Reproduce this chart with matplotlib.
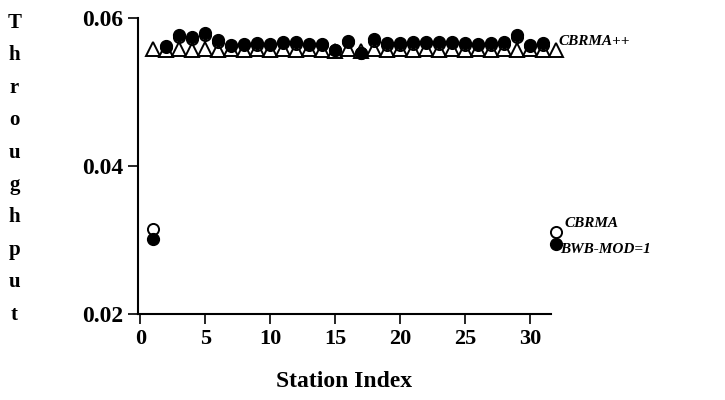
import matplotlib
matplotlib.use("Agg")
import matplotlib.pyplot as plt

stations = list(range(1, 33))

# BWB-MOD=1 (filled circles)
bwb = [0.0302, 0.0562, 0.0577, 0.0574, 0.0580, 0.0570, 0.0563, 0.0565,
       0.0566, 0.0565, 0.0568, 0.0567, 0.0565, 0.0565, 0.0557, 0.0569,
       0.0553, 0.0571, 0.0566, 0.0566, 0.0567, 0.0568, 0.0567, 0.0568,
       0.0566, 0.0565, 0.0566, 0.0567, 0.0577, 0.0563, 0.0566, 0.0295]

# CBRMA (open circles, mostly hidden behind the filled ones)
cbrma = [0.0315, 0.0561, 0.0574, 0.0571, 0.0577, 0.0568, 0.0562, 0.0563,
         0.0564, 0.0563, 0.0566, 0.0565, 0.0563, 0.0563, 0.0557, 0.0567,
         0.0553, 0.0569, 0.0564, 0.0564, 0.0565, 0.0566, 0.0565, 0.0566,
         0.0564, 0.0563, 0.0564, 0.0565, 0.0574, 0.0562, 0.0564, 0.0311]

# CBRMA++ (open triangles)
cbrma_pp = [0.0558, 0.0557, 0.0558, 0.0557, 0.0558, 0.0557, 0.0558, 0.0557,
            0.0558, 0.0557, 0.0558, 0.0557, 0.0558, 0.0557, 0.0556, 0.0558,
            0.0555, 0.0558, 0.0557, 0.0558, 0.0557, 0.0558, 0.0557, 0.0558,
            0.0557, 0.0558, 0.0557, 0.0558, 0.0557, 0.0558, 0.0557, 0.0557]

xticks = [0, 5, 10, 15, 20, 25, 30]
yticks = [0.02, 0.04, 0.06]

plt.rcParams['font.family'] = ['Liberation Serif', 'DejaVu Serif']
plt.rcParams['font.weight'] = 'bold'

fig = plt.figure(figsize=(7.25, 4), dpi=100)
ax = fig.add_axes([0.19, 0.215, 0.57, 0.74])

ax.plot(stations, cbrma_pp, linestyle='none', marker='^', markersize=10,
        markerfacecolor='white', markeredgecolor='black', markeredgewidth=1.4,
        clip_on=False, zorder=3)
ax.plot(stations, cbrma, linestyle='none', marker='o', markersize=8,
        markerfacecolor='white', markeredgecolor='black', markeredgewidth=1.4,
        clip_on=False, zorder=4)
ax.plot(stations, bwb, linestyle='none', marker='o', markersize=8.5,
        color='black', clip_on=False, zorder=5)

ax.text(32.2, 0.0568, 'CBRMA++', fontsize=11, style='italic', va='center', ha='left')
ax.text(32.6, 0.0322, 'CBRMA', fontsize=11, style='italic', va='center', ha='left')
ax.text(32.3, 0.0287, 'BWB-MOD=1', fontsize=11, style='italic', va='center', ha='left')

ax.set_xlim(-0.2, 31.6)
ax.set_ylim(0.02, 0.06)
ax.set_xticks(xticks)
ax.set_yticks(yticks)
ax.set_xticklabels([str(t) for t in xticks], fontsize=16)
ax.set_yticklabels(['0.02', '0.04', '0.06'], fontsize=17)
ax.tick_params(direction='out', length=7, width=1.2)

ax.spines['top'].set_visible(False)
ax.spines['right'].set_visible(False)
ax.spines['left'].set_linewidth(1.5)
ax.spines['bottom'].set_linewidth(1.5)

ax.set_xlabel('Station Index', fontsize=17, fontweight='bold', labelpad=16)
fig.text(0.02, 0.578, '\n'.join('Throughput'), fontsize=15, ha='center', va='center',
         linespacing=1.83)

fig.savefig('out.png', dpi=100)
